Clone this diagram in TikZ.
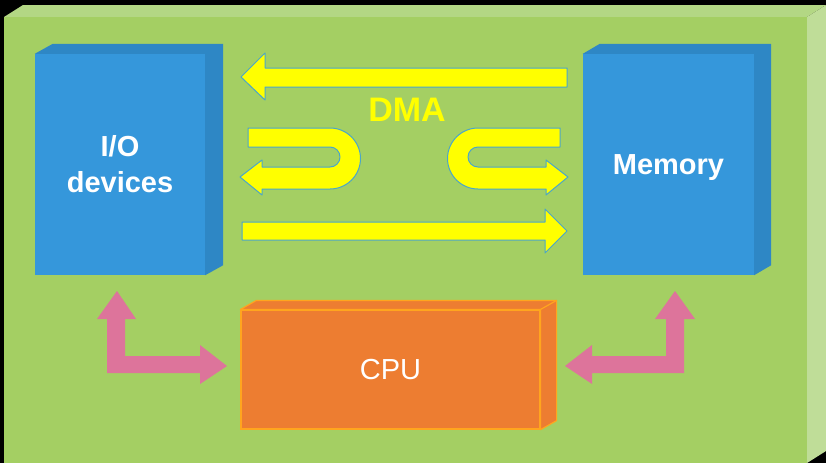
\documentclass[tikz,border=0pt]{standalone}
\usepackage{fontspec}
\setmainfont{Liberation Sans}
\definecolor{boardfront}{HTML}{A4CF63}
\definecolor{boardtop}{HTML}{B3D784}
\definecolor{boardside}{HTML}{BFDD98}
\definecolor{unitfront}{HTML}{3597DB}
\definecolor{unitside}{HTML}{2E87C5}
\definecolor{cpufill}{HTML}{ED7D31}
\definecolor{cpuedge}{HTML}{FFA51E}
\definecolor{busyellow}{HTML}{FFFF00}
\definecolor{busedge}{HTML}{4AA6C9}
\definecolor{linkpink}{HTML}{DD749B}

\begin{document}
\begin{tikzpicture}[x=1pt, y=-1pt,
	unit/.style={fill=unitfront, inner sep=0pt, text=white, align=center, font=\fontsize{29}{36}\selectfont\bfseries},
	unitface/.style={fill=unitside},
	cpubox/.style={fill=cpufill, draw=cpuedge, line width=1.2pt, inner sep=0pt, text=white, font=\fontsize{29}{36}\selectfont},
	cpuface/.style={fill=cpufill, draw=cpuedge, line width=1.2pt, line join=round},
	bus/.style={fill=busyellow, draw=busedge, line width=1pt, line join=round},
	link/.style={fill=linkpink}]

	\useasboundingbox (0,0) rectangle (826,463);
	\fill[black] (0,0) rectangle (826,463);
	\fill[boardtop] (4,17) -- (23,5) -- (826,5) -- (807,17) -- cycle;
	\fill[boardside] (807,17) -- (826,5) -- (826,451) -- (807,463) -- cycle;
	\fill[boardfront] (4,17) rectangle (807,463);

	\node[unit, minimum width=170pt, minimum height=221pt] (io) at (120,164.5) {I/O\\devices};
	\fill[unitface] (io.north west) -- ++(18,-10) -- ([shift={(18,-10)}]io.north east) -- ([shift={(18,-10)}]io.south east) -- (io.south east) -- (io.north east) -- cycle;

	\node[unit, minimum width=171pt, minimum height=221pt, text depth=0pt] (mem) at (668.5,164.5) {Memory};
	\fill[unitface] (mem.north west) -- ++(17,-10) -- ([shift={(17,-10)}]mem.north east) -- ([shift={(17,-10)}]mem.south east) -- (mem.south east) -- (mem.north east) -- cycle;

	\node[cpubox, minimum width=299pt, minimum height=119pt] (cpu) at (390.5,369.5) {CPU};
	\filldraw[cpuface] (cpu.north west) -- ++(16,-9) -- ([shift={(16,-9)}]cpu.north east) -- ([shift={(16,-9)}]cpu.south east) -- (cpu.south east) -- (cpu.north east) -- cycle;
	\draw[cpuface] (cpu.north east) -- ++(16,-9);

	\node[text=busyellow, inner sep=0pt, font=\fontsize{34}{40}\selectfont\bfseries] (dma) at (407,110) {DMA};

	\filldraw[bus] (567,68) -- (265,68) -- (265,53) -- (241,77) -- (265,100) -- (265,87) -- (567,87) -- cycle;
	\filldraw[bus] (248,128) -- (330,128) .. controls (346.8,128) and (360.5,141.7) .. (360.5,158.5) .. controls (360.5,175.3) and (346.8,189) .. (330,189) -- (262,189) -- (262,195) -- (240,177) -- (262,160) -- (262,167) -- (330,167) .. controls (335.5,167) and (340,162.5) .. (340,157) .. controls (340,151.5) and (335.5,147) .. (330,147) -- (248,147) -- cycle;
	\filldraw[bus] (560,128) -- (478,128) .. controls (461.2,128) and (447.5,141.7) .. (447.5,158.5) .. controls (447.5,175.3) and (461.2,189) .. (478,189) -- (546,189) -- (546,195) -- (568,177) -- (546,160) -- (546,167) -- (478,167) .. controls (472.5,167) and (468,162.5) .. (468,157) .. controls (468,151.5) and (472.5,147) .. (478,147) -- (560,147) -- cycle;
	\filldraw[bus] (242,222) -- (545,222) -- (545,209) -- (567,231) -- (545,253) -- (545,240) -- (242,240) -- cycle;

	\fill[link] (117,291) -- (136,319) -- (125,319) -- (125,356) -- (200,356) -- (200,345) -- (227,366) -- (200,384) -- (200,373) -- (107,373) -- (107,319) -- (97,319) -- cycle;
	\fill[link] (675,291) -- (695,319) -- (684,319) -- (684,373) -- (592,373) -- (592,384) -- (565,366) -- (592,345) -- (592,356) -- (666,356) -- (666,319) -- (655,319) -- cycle;
\end{tikzpicture}
\end{document}
